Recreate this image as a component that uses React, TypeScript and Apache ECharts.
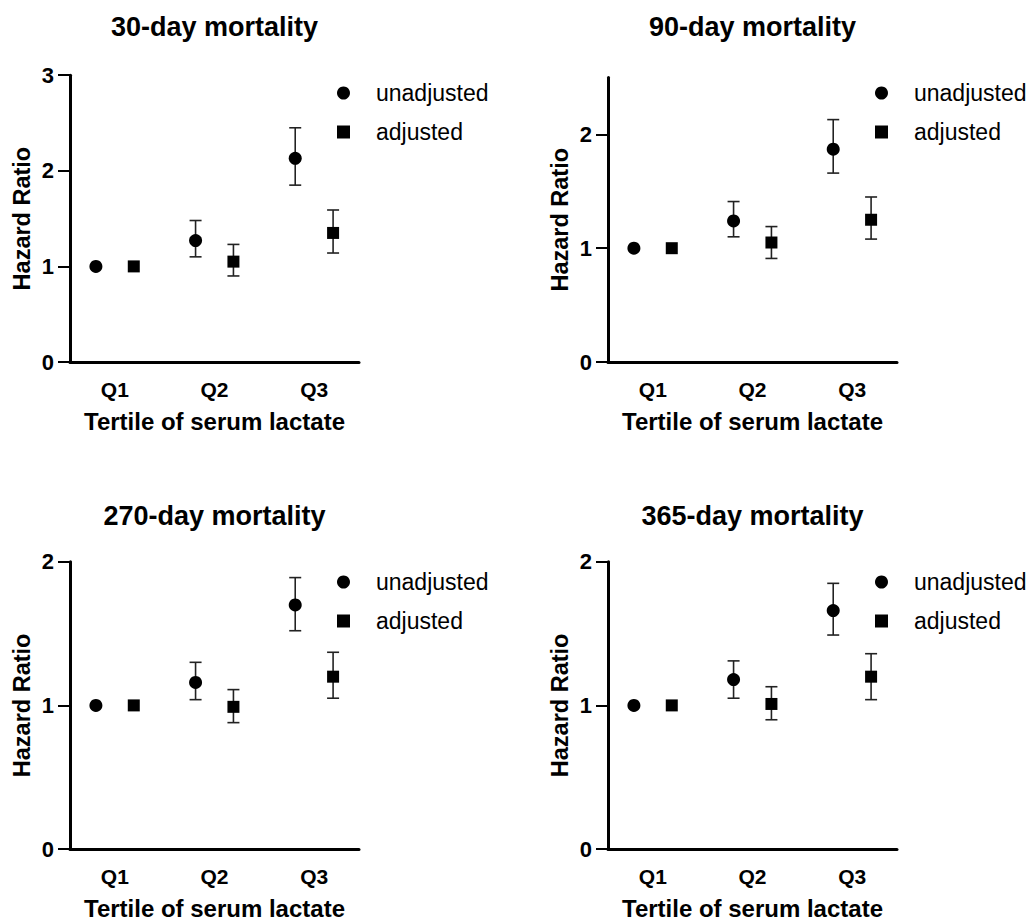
import React, { useEffect, useRef } from "react";
import * as echarts from "echarts";

const categories = ["Q1", "Q2", "Q3"];
const panelTitles = ["30-day mortality", "90-day mortality", "270-day mortality", "365-day mortality"];
const yMax = [3, 2.5, 2, 2];
const yTicks = [[0, 1, 2, 3], [0, 1, 2], [0, 1, 2], [0, 1, 2]];

const unadjHR = [[1, 1.27, 2.13], [1, 1.24, 1.87], [1, 1.16, 1.70], [1, 1.18, 1.66]];
const unadjLo = [[1, 1.10, 1.85], [1, 1.10, 1.66], [1, 1.04, 1.52], [1, 1.05, 1.49]];
const unadjHi = [[1, 1.48, 2.45], [1, 1.41, 2.13], [1, 1.30, 1.89], [1, 1.31, 1.85]];

const adjHR = [[1, 1.05, 1.35], [1, 1.05, 1.25], [1, 0.99, 1.20], [1, 1.01, 1.20]];
const adjLo = [[1, 0.90, 1.14], [1, 0.91, 1.08], [1, 0.88, 1.05], [1, 0.90, 1.04]];
const adjHi = [[1, 1.23, 1.59], [1, 1.19, 1.45], [1, 1.11, 1.37], [1, 1.13, 1.36]];

const FONT = "'Liberation Sans', Arial, sans-serif";
const INK = "#000";

export default function App() {
  const ref = useRef<HTMLDivElement>(null);
  useEffect(() => {
    if (!ref.current) return;
    const chart = echarts.init(ref.current, null, { renderer: "svg" });

    const lefts = [70, 608, 70, 608];
    const bottoms = [362, 362, 851, 851];
    const unitPx = [95.6, 113.8, 144.6, 144.6];
    const off = 0.19;

    const grids: any[] = [];
    const xAxes: any[] = [];
    const yAxes: any[] = [];
    const series: any[] = [];
    const legends: any[] = [];
    const graphics: any[] = [];

    for (let p = 0; p < 4; p++) {
      const h = unitPx[p] * yMax[p];
      const top = bottoms[p] - h;
      grids.push({ left: lefts[p], top: top, width: 289, height: h, containLabel: false });
      xAxes.push({
        type: "value",
        gridIndex: p,
        min: 0.55,
        max: 3.45,
        splitLine: { show: false },
        axisLine: { show: true, onZero: false, lineStyle: { color: INK, width: 3 } },
        axisTick: { show: false },
        axisLabel: {
          customValues: [1, 2, 3],
          formatter: (v: number) => categories[Math.round(v) - 1] ?? "",
          fontFamily: FONT,
          fontWeight: "bold",
          fontSize: 21,
          color: INK,
          margin: 17,
        },
        name: "Tertile of serum lactate",
        nameLocation: "middle",
        nameGap: 47,
        nameTextStyle: { fontFamily: FONT, fontWeight: "bold", fontSize: 24, color: INK },
      });
      yAxes.push({
        type: "value",
        gridIndex: p,
        min: 0,
        max: yMax[p],
        splitLine: { show: false },
        axisLine: { show: true, lineStyle: { color: INK, width: 3 } },
        axisTick: { show: true, length: 12, customValues: yTicks[p], lineStyle: { color: INK, width: 2 } },
        axisLabel: {
          customValues: yTicks[p],
          fontFamily: FONT,
          fontWeight: "bold",
          fontSize: 22,
          color: INK,
          margin: 16,
        },
        name: "Hazard Ratio",
        nameLocation: "middle",
        nameGap: 36,
        nameTextStyle: { fontFamily: FONT, fontWeight: "bold", fontSize: 23.5, color: INK },
      });

      const groups = [
        { name: "unadjusted", hr: unadjHR[p], lo: unadjLo[p], hi: unadjHi[p], dx: -off, symbol: "circle", size: 13 },
        { name: "adjusted", hr: adjHR[p], lo: adjLo[p], hi: adjHi[p], dx: off, symbol: "rect", size: 12 },
      ];
      for (const g of groups) {
        series.push({
          type: "custom",
          name: g.name + " CI",
          xAxisIndex: p,
          yAxisIndex: p,
          z: 1,
          silent: true,
          encode: { x: 0, y: [1, 2] },
          data: categories.map((_, i) => [i + 1 + g.dx, g.lo[i], g.hi[i]]),
          renderItem: (_params: any, api: any) => {
            const x = api.value(0);
            const lo = api.value(1);
            const hi = api.value(2);
            if (!(hi > lo)) return null;
            const a = api.coord([x, hi]);
            const b = api.coord([x, lo]);
            const w = 6;
            const st = { stroke: "#222", lineWidth: 1.6 };
            return {
              type: "group",
              children: [
                { type: "line", shape: { x1: a[0], y1: a[1], x2: b[0], y2: b[1] }, style: st },
                { type: "line", shape: { x1: a[0] - w, y1: a[1], x2: a[0] + w, y2: a[1] }, style: st },
                { type: "line", shape: { x1: b[0] - w, y1: b[1], x2: b[0] + w, y2: b[1] }, style: st },
              ],
            };
          },
        });
        series.push({
          type: "scatter",
          name: g.name,
          xAxisIndex: p,
          yAxisIndex: p,
          z: 3,
          symbol: g.symbol,
          symbolSize: g.size,
          itemStyle: { color: "#000", opacity: 1 },
          data: categories.map((_, i) => [i + 1 + g.dx, g.hr[i]]),
        });
      }

      legends.push({
        orient: "vertical",
        left: lefts[p] + 262,
        top: bottoms[p] - 287,
        itemWidth: 13,
        itemHeight: 13,
        itemGap: 13,
        selectedMode: false,
        itemStyle: { opacity: 1 },
        textStyle: { fontFamily: FONT, fontSize: 23, color: INK, padding: [0, 0, 0, 21], lineHeight: 26 },
        data: [
          { name: "unadjusted", icon: "circle" },
          { name: "adjusted", icon: "rect" },
        ],
      });

      graphics.push({
        type: "text",
        x: lefts[p] + 144.5,
        y: p < 2 ? 27 : 516,
        style: {
          text: panelTitles[p],
          textAlign: "center",
          textVerticalAlign: "middle",
          fontFamily: FONT,
          fontWeight: "bold",
          fontSize: 27,
          fill: INK,
        },
      });
    }

    chart.setOption({
      animation: false,
      backgroundColor: "#fff",
      grid: grids,
      xAxis: xAxes,
      yAxis: yAxes,
      legend: legends,
      series,
      graphic: graphics,
    });
    return () => chart.dispose();
  }, []);
  return <div ref={ref} style={{ position: "absolute", left: 0, top: 0, width: 1029, height: 921 }} />;
}
